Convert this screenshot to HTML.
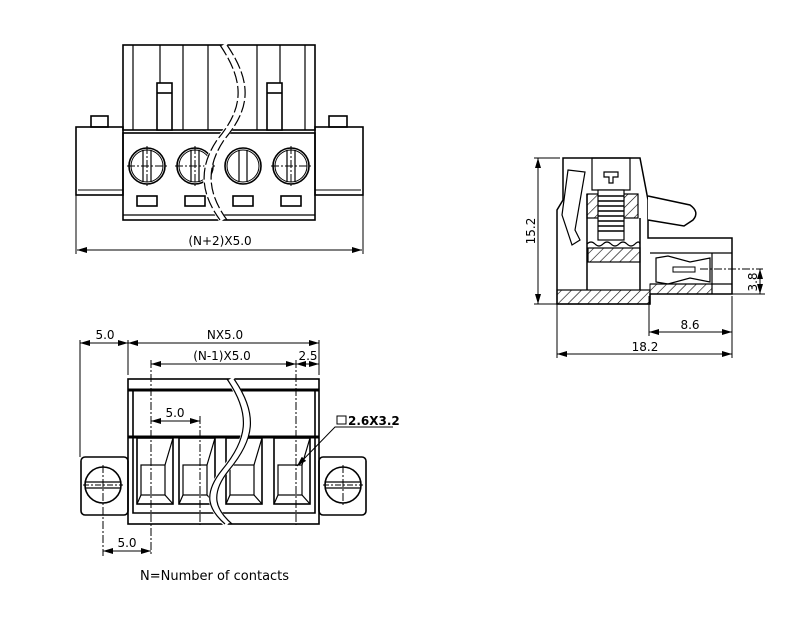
<!DOCTYPE html>
<html><head><meta charset="utf-8"><style>
html,body{margin:0;padding:0;background:#fff;width:800px;height:620px;overflow:hidden}
text{font-family:"DejaVu Sans","Liberation Sans",sans-serif;fill:#000}
</style></head><body>
<svg width="800" height="620" viewBox="0 0 800 620" xmlns="http://www.w3.org/2000/svg">
<defs>
<marker id="a" viewBox="0 0 10 6" refX="10" refY="3" markerWidth="10" markerHeight="6" orient="auto-start-reverse" markerUnits="userSpaceOnUse"><path d="M0,0 L10,3 L0,6z" fill="#000"/></marker>
<pattern id="h" width="7" height="7" patternUnits="userSpaceOnUse" patternTransform="rotate(45)"><line x1="0" y1="0" x2="0" y2="7" stroke="#000" stroke-width="1.2"/></pattern>
</defs>
<g fill="none" stroke="#000" stroke-width="1.6">
<!-- TOP VIEW -->
<rect x="123" y="45" width="192" height="85"/>
<g stroke-width="1.2"><line x1="133" y1="45" x2="133" y2="130"/><line x1="160" y1="45" x2="160" y2="83"/><line x1="183" y1="45" x2="183" y2="130"/><line x1="208" y1="45" x2="208" y2="130"/><line x1="257" y1="45" x2="257" y2="130"/><line x1="280" y1="45" x2="280" y2="83"/><line x1="305" y1="45" x2="305" y2="130"/></g>
<rect x="157" y="83" width="15" height="47" fill="#fff"/><line x1="157" y1="93" x2="172" y2="93"/>
<rect x="267" y="83" width="15" height="47" fill="#fff"/><line x1="267" y1="93" x2="282" y2="93"/>
<rect x="123" y="133" width="192" height="87"/>
<line x1="123" y1="215" x2="315" y2="215" stroke-width="1.2"/>
<rect x="76" y="127" width="47" height="68"/><rect x="315" y="127" width="48" height="68"/>
<line x1="78" y1="190" x2="123" y2="190" stroke-width="1"/><line x1="315" y1="190" x2="361" y2="190" stroke-width="1"/>
<rect x="91" y="116" width="17" height="11"/><rect x="329" y="116" width="18" height="11"/>
<g id="scr">
<circle cx="147" cy="166" r="18"/><circle cx="147" cy="166" r="16" stroke-width="1"/>
<line x1="143" y1="150" x2="143" y2="182" stroke-width="1.2"/><line x1="151" y1="150" x2="151" y2="182" stroke-width="1.2"/>
<line x1="127" y1="166" x2="167" y2="166" stroke-width="1" stroke-dasharray="8,2,2,2"/>
<line x1="147" y1="146" x2="147" y2="187" stroke-width="1" stroke-dasharray="8,2,2,2"/>
<rect x="137" y="196" width="20" height="10"/>
</g>
<use href="#scr" x="48"/><use href="#scr" x="144"/>
<circle cx="243" cy="166" r="18"/><circle cx="243" cy="166" r="16" stroke-width="1"/>
<line x1="239" y1="150" x2="239" y2="182" stroke-width="1.2"/><line x1="247" y1="150" x2="247" y2="182" stroke-width="1.2"/>
<rect x="233" y="196" width="20" height="10"/>
<path d="M223,45 C250,85 245,110 220,140 C200,170 205,195 223,220" stroke="#fff" stroke-width="8"/>
<path d="M220,45 C247,85 242,110 217,140 C197,170 202,195 220,220" stroke-width="1.2" stroke-dasharray="12,3"/>
<path d="M227,45 C254,85 249,110 224,140 C204,170 209,195 227,220" stroke-width="1.2" stroke-dasharray="12,3"/>
<g stroke-width="1"><line x1="76" y1="195" x2="76" y2="254"/><line x1="363" y1="195" x2="363" y2="254"/>
<line x1="77" y1="250" x2="362" y2="250" marker-start="url(#a)" marker-end="url(#a)"/></g>

<!-- FRONT VIEW -->
<rect x="128" y="379" width="191" height="145"/>
<line x1="128" y1="390" x2="319" y2="390" stroke-width="3"/>
<line x1="128" y1="437" x2="319" y2="437" stroke-width="3"/>
<polyline points="133,390 133,513 315,513 315,390"/>
<g id="cell"><rect x="137" y="438" width="36" height="66"/><rect x="141" y="465" width="24" height="30" stroke-width="1.2"/>
<line x1="173" y1="438" x2="165" y2="465" stroke-width="1.2"/><line x1="137" y1="504" x2="141" y2="495" stroke-width="1.2"/><line x1="173" y1="504" x2="165" y2="495" stroke-width="1.2"/></g>
<use href="#cell" x="42"/><use href="#cell" x="89"/><use href="#cell" x="137"/>
<rect x="81" y="457" width="47" height="58" rx="4"/><rect x="319" y="457" width="47" height="58" rx="4"/>
<g id="fs"><circle cx="103" cy="485" r="18"/><line x1="86" y1="482" x2="120" y2="482" stroke-width="1.2"/><line x1="86" y1="488" x2="120" y2="488" stroke-width="1.2"/>
<line x1="83" y1="485" x2="123" y2="485" stroke-width="1" stroke-dasharray="6,2,2,2"/><line x1="103" y1="465" x2="103" y2="556" stroke-width="1" stroke-dasharray="8,2,2,2"/></g>
<circle cx="343" cy="485" r="18"/><line x1="326" y1="482" x2="360" y2="482" stroke-width="1.2"/><line x1="326" y1="488" x2="360" y2="488" stroke-width="1.2"/>
<line x1="323" y1="485" x2="363" y2="485" stroke-width="1" stroke-dasharray="6,2,2,2"/><line x1="343" y1="465" x2="343" y2="505" stroke-width="1" stroke-dasharray="8,2,2,2"/>
<g stroke-width="1" stroke-dasharray="8,2,2,2"><line x1="151" y1="360" x2="151" y2="556"/><line x1="200" y1="416" x2="200" y2="525"/><line x1="296" y1="360" x2="296" y2="525"/></g>
<path d="M230,379 C255,415 250,440 225,470 C205,495 212,510 228,524" stroke="#fff" stroke-width="8"/>
<path d="M227,379 C252,415 247,440 222,470 C202,495 209,510 225,524" stroke-width="1.2"/>
<path d="M234,379 C259,415 254,440 229,470 C209,495 216,510 232,524" stroke-width="1.2"/>
<g stroke-width="1">
<line x1="80" y1="340" x2="80" y2="457"/><line x1="128" y1="340" x2="128" y2="375"/><line x1="319" y1="340" x2="319" y2="375"/>
<line x1="80" y1="343" x2="128" y2="343" marker-start="url(#a)" marker-end="url(#a)"/>
<line x1="128" y1="343" x2="319" y2="343" marker-start="url(#a)" marker-end="url(#a)"/>
<line x1="151" y1="364" x2="296" y2="364" marker-start="url(#a)" marker-end="url(#a)"/>
<line x1="296" y1="364" x2="319" y2="364" marker-start="url(#a)" marker-end="url(#a)"/>
<line x1="151" y1="421" x2="200" y2="421" marker-start="url(#a)" marker-end="url(#a)"/>
<line x1="103" y1="551" x2="151" y2="551" marker-start="url(#a)" marker-end="url(#a)"/>
<polyline points="393,427 335,427 297,466" marker-end="url(#a)"/>
<rect x="337" y="416" width="9" height="8"/>
</g>

<!-- SIDE VIEW -->
<g stroke-width="1.5">
<path d="M563,158 L640,158 L648,200 L648,238 L732,238 L732,294 L650,294 L650,304 L557,304 L557,210 L563,200 Z"/>
<rect x="592" y="158" width="38" height="32" stroke-width="1.2"/>
<path d="M604,172 h14 v5 h-5 v6 h-4 v-6 h-5 z" stroke-width="1.2"/>
<rect x="587" y="194" width="51" height="24" fill="url(#h)" stroke-width="1.2"/>
<rect x="598" y="190" width="26" height="50" fill="#fff" stroke-width="1.2"/>
<path d="M598,196 h26 M598,201 h26 M598,206 h26 M598,211 h26 M598,216 h26 M598,221 h26 M598,226 h26 M598,231 h26" stroke-width="1.5"/>
<path d="M587,244 q4,-4 8,0 t8,0 t8,0 t8,0 t8,0 t8,0 t5,0" stroke-width="1.2"/>
<rect x="588" y="248" width="52" height="14" fill="url(#h)" stroke-width="1.2"/>
<line x1="587" y1="194" x2="587" y2="290"/><line x1="640" y1="218" x2="640" y2="290"/>
<path d="M648,196 L690,205 Q700,212 693,220 L684,226 L648,220" fill="#fff"/>
<path d="M568,170 L585,172 L575,230 L580,240 L572,245 L562,215 Z" stroke-width="1.2"/>
<line x1="650" y1="253" x2="732" y2="253" stroke-width="1.2"/><line x1="650" y1="284" x2="732" y2="284" stroke-width="1.2"/>
<line x1="712" y1="253" x2="712" y2="294" stroke-width="1.2"/>
<path d="M656,258 L668,256 L690,262 L710,258 L710,282 L690,278 L668,284 L656,282 Z" stroke-width="1.2"/>
<rect x="673" y="267" width="22" height="5" stroke-width="1"/>
<rect x="557" y="290" width="93" height="14" fill="url(#h)" stroke-width="1.2"/>
<rect x="650" y="284" width="62" height="10" fill="url(#h)" stroke-width="1"/>
<line x1="700" y1="269" x2="763" y2="269" stroke-width="1" stroke-dasharray="8,2,2,2"/>
</g>
<g stroke-width="1">
<line x1="534" y1="158" x2="560" y2="158"/><line x1="534" y1="304" x2="557" y2="304"/>
<line x1="538" y1="158" x2="538" y2="304" marker-start="url(#a)" marker-end="url(#a)"/>
<line x1="732" y1="294" x2="765" y2="294"/>
<line x1="760" y1="269" x2="760" y2="294" marker-start="url(#a)" marker-end="url(#a)"/>
<line x1="557" y1="304" x2="557" y2="358"/><line x1="649" y1="296" x2="649" y2="336"/><line x1="732" y1="296" x2="732" y2="358"/>
<line x1="649" y1="332" x2="732" y2="332" marker-start="url(#a)" marker-end="url(#a)"/>
<line x1="557" y1="354" x2="732" y2="354" marker-start="url(#a)" marker-end="url(#a)"/>
</g>
</g>
<g font-size="12">
<text x="220" y="245" text-anchor="middle">(N+2)X5.0</text>
<text x="105" y="339" text-anchor="middle">5.0</text>
<text x="225" y="339" text-anchor="middle">NX5.0</text>
<text x="222" y="360" text-anchor="middle">(N-1)X5.0</text>
<text x="308" y="360" text-anchor="middle">2.5</text>
<text x="175" y="417" text-anchor="middle">5.0</text>
<text x="127" y="547" text-anchor="middle">5.0</text>
<text x="348" y="425" font-weight="bold" font-size="12">2.6X3.2</text>
<text x="140" y="580" font-size="13">N=Number of contacts</text>
<text x="690" y="329" text-anchor="middle">8.6</text>
<text x="645" y="351" text-anchor="middle">18.2</text>
<text transform="translate(535,231) rotate(-90)" text-anchor="middle">15.2</text>
<text transform="translate(757,282) rotate(-90)" text-anchor="middle">3.8</text>
</g>
</svg>
</body></html>
